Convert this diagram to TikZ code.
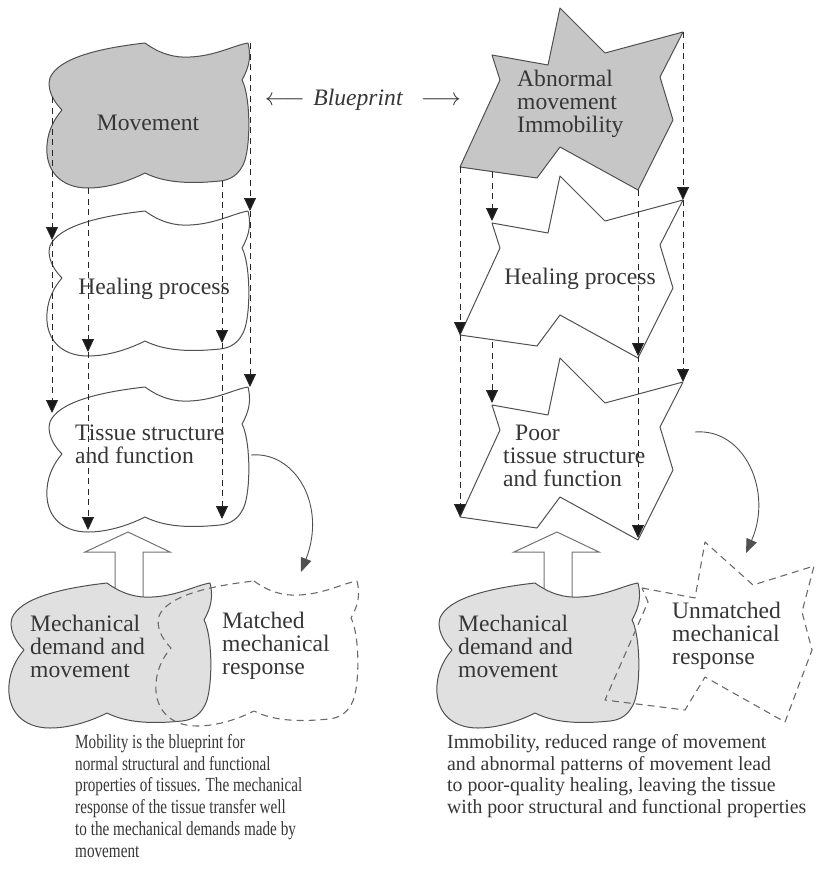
\documentclass[tikz,border=0pt]{standalone}
\usepackage{fontspec}
\setmainfont{Liberation Serif}
\newfontfamily\capfontL[FakeStretch=0.76]{Liberation Serif}
\newfontfamily\capfontR[FakeStretch=0.99]{Liberation Serif}
\usetikzlibrary{arrows.meta}
\definecolor{ink}{HTML}{363636}
\definecolor{shade}{HTML}{C6C6C6}
\definecolor{shadelight}{HTML}{E0E0E0}
\definecolor{edge}{HTML}{505050}
\tikzset{
  blob/.style={draw=edge, line width=1pt, line join=round},
  dashblob/.style={draw=edge!85, line width=1.1pt, dash pattern=on 7pt off 5pt, line join=round},
  guide/.style={draw=black!85, line width=1pt, dash pattern=on 6pt off 4.5pt, -{Triangle[length=13pt,width=12pt,fill=black!90]}},
  hollow/.style={draw=edge!80, fill=white, line width=1pt, line join=miter},
  curvy/.style={draw=edge, line width=0.9pt, -{Triangle[length=14pt,width=11pt]}},
  lbl/.style={text=ink, font=\fontsize{23.6}{23}\selectfont, align=left, inner sep=0pt},
  captextL/.style={text=ink, font=\capfontL\fontsize{20}{21.8}\selectfont, align=left, inner sep=0pt},
  captextR/.style={text=ink, font=\capfontR\fontsize{20}{21.8}\selectfont, align=left, inner sep=0pt},
  cloud/.pic={
    \path[pic actions] (145,43) .. controls (160,54) and (175,58) .. (190,57)
      .. controls (215,56) and (235,45) .. (248,43)
      .. controls (251,55) and (250,66) .. (242,80)
      .. controls (250,95) and (251,140) .. (245,160)
      .. controls (240,175) and (230,180) .. (220,181)
      .. controls (190,184) and (165,183) .. (145,173)
      .. controls (125,183) and (105,188) .. (88,188)
      .. controls (60,188) and (45,170) .. (47,145)
      .. controls (48,130) and (55,118) .. (62,110)
      .. controls (52,100) and (47,88) .. (50,78)
      .. controls (58,58) and (100,48) .. (145,43) -- cycle;
  },
  jag/.pic={
    \path[pic actions] (492,55) -- (548,65) -- (560,8) -- (605,53) -- (683,32)
      -- (660,77) -- (673,120) -- (638,190) -- (560,147) -- (537,178)
      -- (460,167) -- (500,80) -- cycle;
  }
}
\begin{document}
\begin{tikzpicture}[x=1pt,y=-1pt]
\useasboundingbox (0,0) rectangle (817,879);

% ---------------- left column ----------------
\pic[blob, fill=shade] at (0,0) {cloud};
\pic[blob, fill=white] at (0,168) {cloud};
\pic[blob, fill=white] at (0,344) {cloud};
\draw[hollow] (128,532) -- (170,552) -- (143,552) -- (143,600) -- (115,600) -- (115,552) -- (85,552) -- cycle;
\pic[blob, fill=shadelight] at (-38,540) {cloud};
\pic[dashblob] at (109,538) {cloud};

% ---------------- right column ----------------
\pic[blob, fill=shade] at (0,0) {jag};
\pic[blob, fill=white] at (0,168) {jag};
\pic[blob, fill=white] at (0,350) {jag};
\draw[hollow] (557,532) -- (599,552) -- (572,552) -- (572,600) -- (544,600) -- (544,552) -- (514,552) -- cycle;
\pic[blob, fill=shadelight] at (390,540) {cloud};
\draw[dashblob] (642,588) -- (695,598) -- (705,542) -- (753,585) -- (814,566)
  -- (802,612) -- (812,650) -- (785,722) -- (705,677) -- (685,710)
  -- (605,700) -- (648,602) -- cycle;

% ---------------- guide coordinates ----------------
\coordinate (a0) at (250,43);  \coordinate (a1) at (250,211); \coordinate (a2) at (250,387);
\coordinate (b0) at (52,97);   \coordinate (b1) at (52,240);  \coordinate (b2) at (52,413);
\coordinate (c0) at (88,188);  \coordinate (c1) at (88,352);  \coordinate (c2) at (88,530);
\coordinate (d0) at (222,181); \coordinate (d1) at (222,343); \coordinate (d2) at (222,519);

\coordinate (e0) at (683,32);  \coordinate (e1) at (683,200); \coordinate (e2) at (683,382);
\coordinate (f0) at (492,172); \coordinate (f1) at (492,221);
\coordinate (f2) at (492,342); \coordinate (f3) at (492,403);
\coordinate (g0) at (638,190); \coordinate (g1) at (638,356); \coordinate (g2) at (638,538);
\coordinate (h0) at (460,167); \coordinate (h1) at (460,335); \coordinate (h2) at (460,517);

\draw[guide] (a0) -- (a1); \draw[guide] (a1) -- (a2);
\draw[guide] (b0) -- (b1); \draw[guide] (b1) -- (b2);
\draw[guide] (c0) -- (c1); \draw[guide] (c1) -- (c2);
\draw[guide] (d0) -- (d1); \draw[guide] (d1) -- (d2);
\draw[guide] (e0) -- (e1); \draw[guide] (e1) -- (e2);
\draw[guide] (f0) -- (f1); \draw[guide] (f2) -- (f3);
\draw[guide] (g0) -- (g1); \draw[guide] (g1) -- (g2);
\draw[guide] (h0) -- (h1); \draw[guide] (h1) -- (h2);

% ---------------- curved arrows ----------------
\coordinate (cs) at (251,455); \coordinate (ct) at (301,572);
\draw[curvy] (cs) .. controls (295,451) and (327,505) .. (ct);
\coordinate (ds) at (695,432); \coordinate (dt) at (746,553);
\draw[curvy] (ds) .. controls (745,428) and (773,492) .. (dt);

% ---------------- labels ----------------
\node[lbl] (movement) at (148,123) {Movement};
\node[lbl] (healL) at (154,289) {Healing process};
\node[lbl, anchor=west] (tissueL) at (75,444) {Tissue structure\\and function};
\node[lbl, anchor=west] (mechL) at (30,646) {Mechanical\\demand and\\movement};
\node[lbl, anchor=west] (matched) at (222,646) {Matched\\mechanical\\response};

\node[lbl] (bpl) at (285,101) {$\longleftarrow$};
\node[lbl, font=\fontsize{23.6}{23}\selectfont\itshape] (bp) at (358,100) {Blueprint};
\node[lbl] (bpr) at (441,101) {$\longrightarrow$};

\node[lbl, anchor=west] (abn) at (517,104) {Abnormal\\movement\\Immobility};
\node[lbl] (healR) at (580,279) {Healing process};
\node[lbl, anchor=west] (poor) at (503,456) {\hspace*{12pt}Poor\\tissue structure\\and function};
\node[lbl, anchor=west] (mechR) at (458,646) {Mechanical\\demand and\\movement};
\node[lbl, anchor=west] (unmatched) at (672,636) {Unmatched\\mechanical\\response};

\node[captextL, anchor=north west] (capL) at (75,734) {Mobility is the blueprint for\\normal structural and functional\\properties of tissues. The mechanical\\response of the tissue transfer well\\to the mechanical demands made by\\movement};
\node[captextR, anchor=north west] (capR) at (447,734) {Immobility, reduced range of movement\\and abnormal patterns of movement lead\\to poor-quality healing, leaving the tissue\\with poor structural and functional properties};
\end{tikzpicture}
\end{document}
